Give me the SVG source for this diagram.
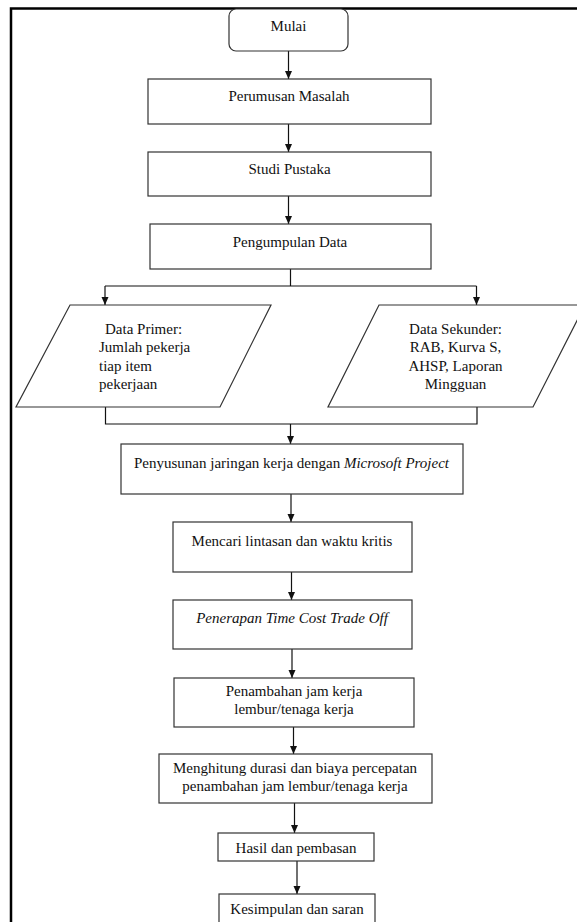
<svg xmlns="http://www.w3.org/2000/svg" width="577" height="922" viewBox="0 0 577 922">
<style>
  .box { fill: #ffffff; stroke: #333333; stroke-width: 1.2; }
  .t { font-family: "Liberation Serif", "Times New Roman", serif; font-size: 15px; fill: #111111; }
  .c { text-anchor: middle; }
  .i { font-style: italic; }
  .ln { fill: none; stroke: #111111; stroke-width: 1.2; }
  .arr { fill: none; stroke: #111111; stroke-width: 1.2; marker-end: url(#ah); }
</style>
<defs>
  <marker id="ah" markerUnits="userSpaceOnUse" markerWidth="8" markerHeight="9" refX="8" refY="3.5" orient="auto">
    <path d="M0,0 L8,3.5 L0,7 z" fill="#111111"/>
  </marker>
</defs>
<rect x="0" y="0" width="577" height="922" fill="#ffffff"/>
<rect id="frame" x="11" y="8.5" width="600" height="940" fill="none" stroke="#000000" stroke-width="2.5"/>

<g id="connectors">
  <line class="arr" x1="288.5" y1="51" x2="288.5" y2="79"/>
  <line class="arr" x1="288.5" y1="124" x2="288.5" y2="152"/>
  <line class="arr" x1="288.5" y1="196" x2="288.5" y2="224"/>
  <line class="ln" x1="290.5" y1="269" x2="290.5" y2="286" stroke="#555555"/>
  <line class="ln" x1="105" y1="286" x2="476.5" y2="286"/>
  <line class="arr" x1="105" y1="286" x2="105" y2="305"/>
  <line class="arr" x1="476.5" y1="286" x2="476.5" y2="305"/>
  <polyline class="ln" points="105.5,407 105.5,424 477,424 477,407"/>
  <line class="arr" x1="290.5" y1="424" x2="290.5" y2="444"/>
  <line class="arr" x1="291" y1="494" x2="291" y2="522"/>
  <line class="arr" x1="291.5" y1="572" x2="291.5" y2="600"/>
  <line class="arr" x1="292" y1="649" x2="292" y2="678"/>
  <line class="arr" x1="293.5" y1="727" x2="293.5" y2="754"/>
  <line class="arr" x1="294.5" y1="803" x2="294.5" y2="833"/>
  <line class="arr" x1="297" y1="861" x2="297" y2="894"/>
</g>

<g id="mulai">
  <rect class="box" x="229" y="9" width="119" height="42" rx="7" ry="7"/>
  <text class="t c" x="288.5" y="31">Mulai</text>
</g>

<g id="perumusan">
  <rect class="box" x="148" y="79" width="283" height="45"/>
  <text class="t c" x="289" y="101">Perumusan Masalah</text>
</g>

<g id="studi">
  <rect class="box" x="148" y="152" width="283" height="44"/>
  <text class="t c" x="289.5" y="173.5">Studi Pustaka</text>
</g>

<g id="pengumpulan">
  <rect class="box" x="150" y="224" width="281" height="45"/>
  <text class="t c" x="290" y="246.5">Pengumpulan Data</text>
</g>

<g id="data-primer">
  <polygon class="box" points="70,305 271,305 220,407 16,407"/>
  <text class="t" x="105" y="333.5">Data Primer:</text>
  <text class="t" x="99" y="352">Jumlah pekerja</text>
  <text class="t" x="99" y="370.5">tiap item</text>
  <text class="t" x="99" y="389">pekerjaan</text>
</g>

<g id="data-sekunder">
  <polygon class="box" points="379,305 585,305 533,407 328,407"/>
  <text class="t c" x="455.5" y="333.5">Data Sekunder:</text>
  <text class="t c" x="455.5" y="352">RAB, Kurva S,</text>
  <text class="t c" x="455.5" y="370.5">AHSP, Laporan</text>
  <text class="t c" x="455.5" y="389">Mingguan</text>
</g>

<g id="penyusunan">
  <rect class="box" x="121" y="444" width="342" height="50"/>
  <text class="t c" x="291.5" y="468">Penyusunan jaringan kerja dengan <tspan class="i">Microsoft Project</tspan></text>
</g>

<g id="mencari">
  <rect class="box" x="173" y="522" width="239" height="50"/>
  <text class="t c" x="292" y="545.5">Mencari lintasan dan waktu kritis</text>
</g>

<g id="penerapan">
  <rect class="box" x="173" y="600" width="239" height="49"/>
  <text class="t c i" x="292" y="623">Penerapan Time Cost Trade Off</text>
</g>

<g id="penambahan">
  <rect class="box" x="174" y="678" width="240" height="49"/>
  <text class="t c" x="294" y="696">Penambahan jam kerja</text>
  <text class="t c" x="294" y="714">lembur/tenaga kerja</text>
</g>

<g id="menghitung">
  <rect class="box" x="159" y="754" width="273" height="49"/>
  <text class="t c" x="295" y="772.5">Menghitung durasi dan biaya percepatan</text>
  <text class="t c" x="295" y="791">penambahan jam lembur/tenaga kerja</text>
</g>

<g id="hasil">
  <rect class="box" x="218" y="833" width="156" height="28"/>
  <text class="t c" x="296" y="853">Hasil dan pembasan</text>
</g>

<g id="kesimpulan">
  <rect class="box" x="219" y="894" width="156" height="40"/>
  <text class="t c" x="297" y="913.5">Kesimpulan dan saran</text>
</g>
</svg>
